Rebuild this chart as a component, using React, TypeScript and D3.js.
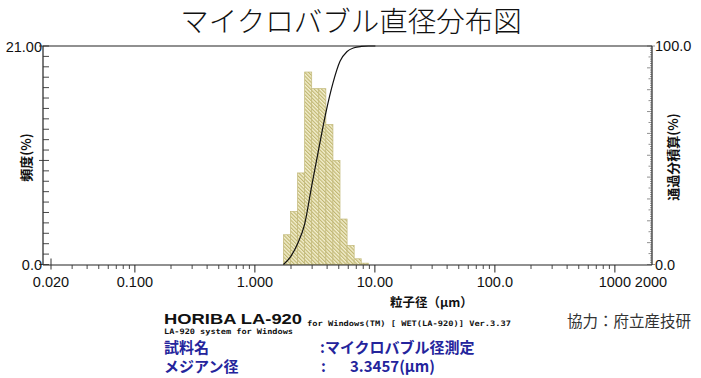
import React from "react";
import * as d3 from "d3";

// ---- data ----
const binEdges = [1.729, 1.981, 2.269, 2.599, 2.976, 3.409, 3.905, 4.472, 5.122, 5.867, 6.72, 7.697, 8.816];
const frequency = [2.86, 5.1, 8.8, 18.5, 16.9, 16.9, 13.45, 10.0, 4.37, 1.83, 0.55, 0.13];
const cumDiameter = [1.729, 1.981, 2.269, 2.599, 2.976, 3.409, 3.905, 4.472, 5.122, 5.867, 6.72, 7.697, 8.816, 10.097];
const cumPassing = [0, 3.5, 9.5, 18.5, 36, 53, 69.5, 83, 93, 97.5, 99.2, 99.8, 100, 100];
const xTickValues = [0.02, 0.1, 1, 10, 100, 1000, 2000];
const xTickLabels = ["0.020", "0.100", "1.000", "10.00", "100.0", "1000", "2000"];
const yLeftLabels = [
  { v: 21, t: "21.00" },
  { v: 0, t: "0.0" },
];
const yRightLabels = [
  { v: 100, t: "100.0" },
  { v: 0, t: "0.0" },
];

const W = 701;
const H = 378;
const L = 43;
const R = 652;
const TOP = 46;
const BOT = 264.5;

export default function App() {
  const x = d3.scaleLog().domain([0.02, 2000]).range([51, 651]);
  const yL = d3.scaleLinear().domain([0, 21]).range([BOT, TOP]);
  const yR = d3.scaleLinear().domain([0, 100]).range([BOT, TOP]);

  const minor: number[] = [];
  [0.01, 0.1, 1, 10, 100, 1000].forEach((dec) => {
    for (let m = 2; m <= 9; m++) {
      const v = dec * m;
      if (v >= 0.02 && v <= 2000 && !xTickValues.includes(v)) minor.push(v);
    }
  });
  const majors = [0.1, 1, 10, 100, 1000];

  const line = d3
    .line<number>()
    .x((_, i) => x(cumDiameter[i]))
    .y((d) => yR(d))
    .curve(d3.curveMonotoneX);

  const tickFont = "'Liberation Sans', Arial, sans-serif";
  const cjk = "'Noto Sans CJK JP', sans-serif";
  const blue = "#24249c";

  return (
    <svg width={W} height={H} style={{ position: "absolute", left: 0, top: 0, display: "block", background: "#fff" }}>
      <defs>
        <pattern id="hatch" width="2.6" height="2.6" patternUnits="userSpaceOnUse" patternTransform="rotate(-45)">
          <rect width="2.6" height="2.6" fill="#f3efcf" />
          <line x1="0.6" y1="0" x2="0.6" y2="2.6" stroke="#bdb36a" strokeWidth="1.1" />
        </pattern>
      </defs>

      {/* title */}
      <text x={351} y={32} textAnchor="middle" fontFamily={cjk} fontWeight={300} fontSize={28.5} fill="#111">
        マイクロバブル直径分布図
      </text>

      {/* bars */}
      {frequency.map((f, i) => (
        <rect
          key={i}
          x={x(binEdges[i])}
          y={yL(f)}
          width={x(binEdges[i + 1]) - x(binEdges[i])}
          height={yL(0) - yL(f)}
          fill="url(#hatch)"
          stroke="#c2b97a"
          strokeWidth={0.7}
        />
      ))}

      {/* frame */}
      <line x1={L} y1={TOP} x2={R} y2={TOP} stroke="#222" strokeWidth={1.2} />
      <line x1={L} y1={TOP} x2={L} y2={BOT + 0.5} stroke="#222" strokeWidth={1.2} />
      <line x1={R} y1={TOP} x2={R} y2={BOT + 0.5} stroke="#222" strokeWidth={1.2} />
      <line x1={L} y1={BOT + 0.5} x2={R} y2={BOT + 0.5} stroke="#222" strokeWidth={1.2} />

      {/* left ticks */}
      {d3.range(0, 22).map((v) => (
        <line key={"yl" + v} x1={v === 0 || v === 10 || v === 21 ? L - 4 : L} x2={L + 6} y1={yL(v)} y2={yL(v)} stroke="#333" strokeWidth={0.9} />
      ))}
      {/* right ticks */}
      {d3.range(0, 101).map((v) => (
        <line
          key={"yr" + v}
          x1={R - (v % 10 === 0 ? 5 : v % 5 === 0 ? 3.5 : 2)}
          x2={v === 0 || v === 100 ? R + 3 : R}
          y1={yR(v)}
          y2={yR(v)}
          stroke="#444"
          strokeWidth={0.6}
        />
      ))}

      {/* x ticks */}
      {minor.map((v) => (
        <line key={"xm" + v} x1={x(v)} x2={x(v)} y1={BOT + 0.5} y2={BOT + 4.5} stroke="#333" strokeWidth={0.9} />
      ))}
      {majors.map((v) => (
        <line key={"xM" + v} x1={x(v)} x2={x(v)} y1={BOT + 0.5} y2={BOT + 8} stroke="#222" strokeWidth={1} />
      ))}
      <line x1={x(0.02)} x2={x(0.02)} y1={BOT - 6} y2={BOT + 5} stroke="#333" strokeWidth={1} />

      {/* cumulative curve */}
      <path d={line(cumPassing) || ""} fill="none" stroke="#111" strokeWidth={1.2} />

      {/* tick labels */}
      {xTickValues.map((v, i) => (
        <text key={"xl" + v} x={x(v)} y={287} textAnchor="middle" fontFamily={tickFont} fontSize={14.5} fill="#111">
          {xTickLabels[i]}
        </text>
      ))}
      {yLeftLabels.map((d) => (
        <text key={"ll" + d.v} x={L - 1} y={yL(d.v) + 5.5} textAnchor="end" fontFamily={tickFont} fontSize={14.5} fill="#111">
          {d.t}
        </text>
      ))}
      {yRightLabels.map((d) => (
        <text key={"rl" + d.v} x={R + 3} y={yR(d.v) + 5} textAnchor="start" fontFamily={tickFont} fontSize={14.5} fill="#111">
          {d.t}
        </text>
      ))}

      {/* axis titles */}
      <text transform="translate(31,157.5) rotate(-90)" textAnchor="middle" fontFamily={cjk} fontWeight={700} fontSize={13} fill="#111">
        頻度(%)
      </text>
      <text transform="translate(678,157) rotate(-90)" textAnchor="middle" fontFamily={cjk} fontWeight={700} fontSize={13} fill="#111">
        通過分積算(%)
      </text>
      <text x={390} y={307} fontFamily={cjk} fontWeight={700} fontSize={12.5} fill="#111">
        粒子径（μm）
      </text>

      {/* instrument text */}
      <text x={164} y={324} fontFamily="'Liberation Sans', Arial, sans-serif" fontWeight={700} fontSize={15} textLength={138} lengthAdjust="spacingAndGlyphs" fill="#111">
        HORIBA LA-920
      </text>
      <text x={307} y={325.5} fontFamily="'DejaVu Sans Mono', monospace" fontWeight={700} fontSize={7.5} textLength={204} lengthAdjust="spacingAndGlyphs" fill="#111">
        for Windows(TM) [ WET(LA-920)] Ver.3.37
      </text>
      <text x={164} y={333.5} fontFamily="'DejaVu Sans Mono', monospace" fontWeight={700} fontSize={7.5} textLength={129} lengthAdjust="spacingAndGlyphs" fill="#111">
        LA-920 system for Windows
      </text>

      <text x={164} y={353} fontFamily={cjk} fontWeight={700} fontSize={15} fill={blue}>
        試料名
      </text>
      <text x={320} y={353} fontFamily={cjk} fontWeight={700} fontSize={15} fill={blue}>
        :マイクロバブル径測定
      </text>
      <text x={164} y={372} fontFamily={cjk} fontWeight={700} fontSize={15} fill={blue}>
        メジアン径
      </text>
      <text x={321} y={372} fontFamily={cjk} fontWeight={700} fontSize={15} fill={blue}>
        :
      </text>
      <text x={350} y={372} fontFamily={cjk} fontWeight={700} fontSize={15} fill={blue}>
        3.3457(μm)
      </text>

      <text x={567} y={327} fontFamily={cjk} fontWeight={400} fontSize={15.5} fill="#333">
        協力：府立産技研
      </text>
    </svg>
  );
}
